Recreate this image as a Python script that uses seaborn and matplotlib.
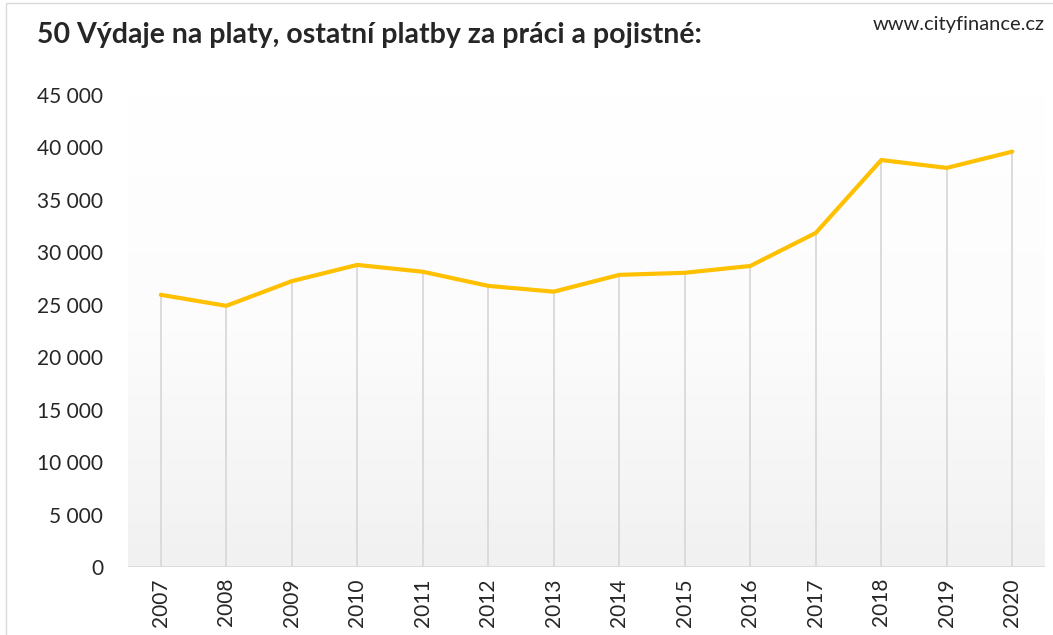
import numpy as np
import matplotlib
matplotlib.use("Agg")
import matplotlib.pyplot as plt
import seaborn as sns
import pandas as pd
from matplotlib.ticker import FuncFormatter

sns.set_style("white")
plt.rcParams["font.family"] = ["Lato", "DejaVu Sans"]

# data
years = ["2007", "2008", "2009", "2010", "2011", "2012", "2013",
         "2014", "2015", "2016", "2017", "2018", "2019", "2020"]
values = [25950, 24900, 27250, 28800, 28150, 26800, 26250,
          27850, 28050, 28700, 31850, 38800, 38050, 39600]
yticks = [0, 5000, 10000, 15000, 20000, 25000, 30000, 35000, 40000, 45000]

df = pd.DataFrame({"idx": np.arange(len(years)), "val": values})

fig = plt.figure(figsize=(10.53, 6.35), dpi=100)
ax = fig.add_axes([0.1216, 0.1071, 0.8708, 0.7433])

ax.set_xlim(-0.5, len(years) - 0.5)
ax.set_ylim(0, 45000)

# background gradient, light grey at the bottom fading to white
grad = np.linspace(0, 1, 256).reshape(-1, 1)
ax.imshow(grad, extent=[-0.5, len(years) - 0.5, 0, 45000], aspect="auto",
          cmap=matplotlib.colors.LinearSegmentedColormap.from_list("g", ["#f1f1f1", "#fcfcfc", "#ffffff"]),
          origin="lower", zorder=0)

# drop lines
ax.vlines(df["idx"], 0, df["val"], color="#d9d9d9", lw=1.3, zorder=1)

sns.lineplot(data=df, x="idx", y="val", color="#ffc000", lw=3, ax=ax, zorder=3)

ax.axhline(0, color="#d9d9d9", lw=1.3, zorder=2)
for s in ax.spines.values():
    s.set_visible(False)

ax.set_xticks(df["idx"])
ax.set_xticklabels(years, rotation=90, fontsize=15)
ax.set_yticks(yticks)
ax.yaxis.set_major_formatter(FuncFormatter(lambda v, p: f"{int(v):,}".replace(",", " ")))
ax.tick_params(axis="y", labelsize=15, length=0, pad=18)
ax.tick_params(axis="x", length=0, pad=8)
ax.set_xlabel("")
ax.set_ylabel("")
ax.grid(False)

fig.text(0.035, 0.945, "50 Výdaje na platy, ostatní platby za práci a pojistné:",
         fontsize=20.5, fontweight="bold", va="center", ha="left")
fig.text(0.992, 0.962, "www.cityfinance.cz", fontsize=14.5, va="center", ha="right")

# outer frame
fig.patches.append(matplotlib.patches.Rectangle((0.006, -0.01), 1.0, 1.005, transform=fig.transFigure,
                                                 fill=False, edgecolor="#d9d9d9", lw=1))

fig.savefig("out.png", dpi=100)
